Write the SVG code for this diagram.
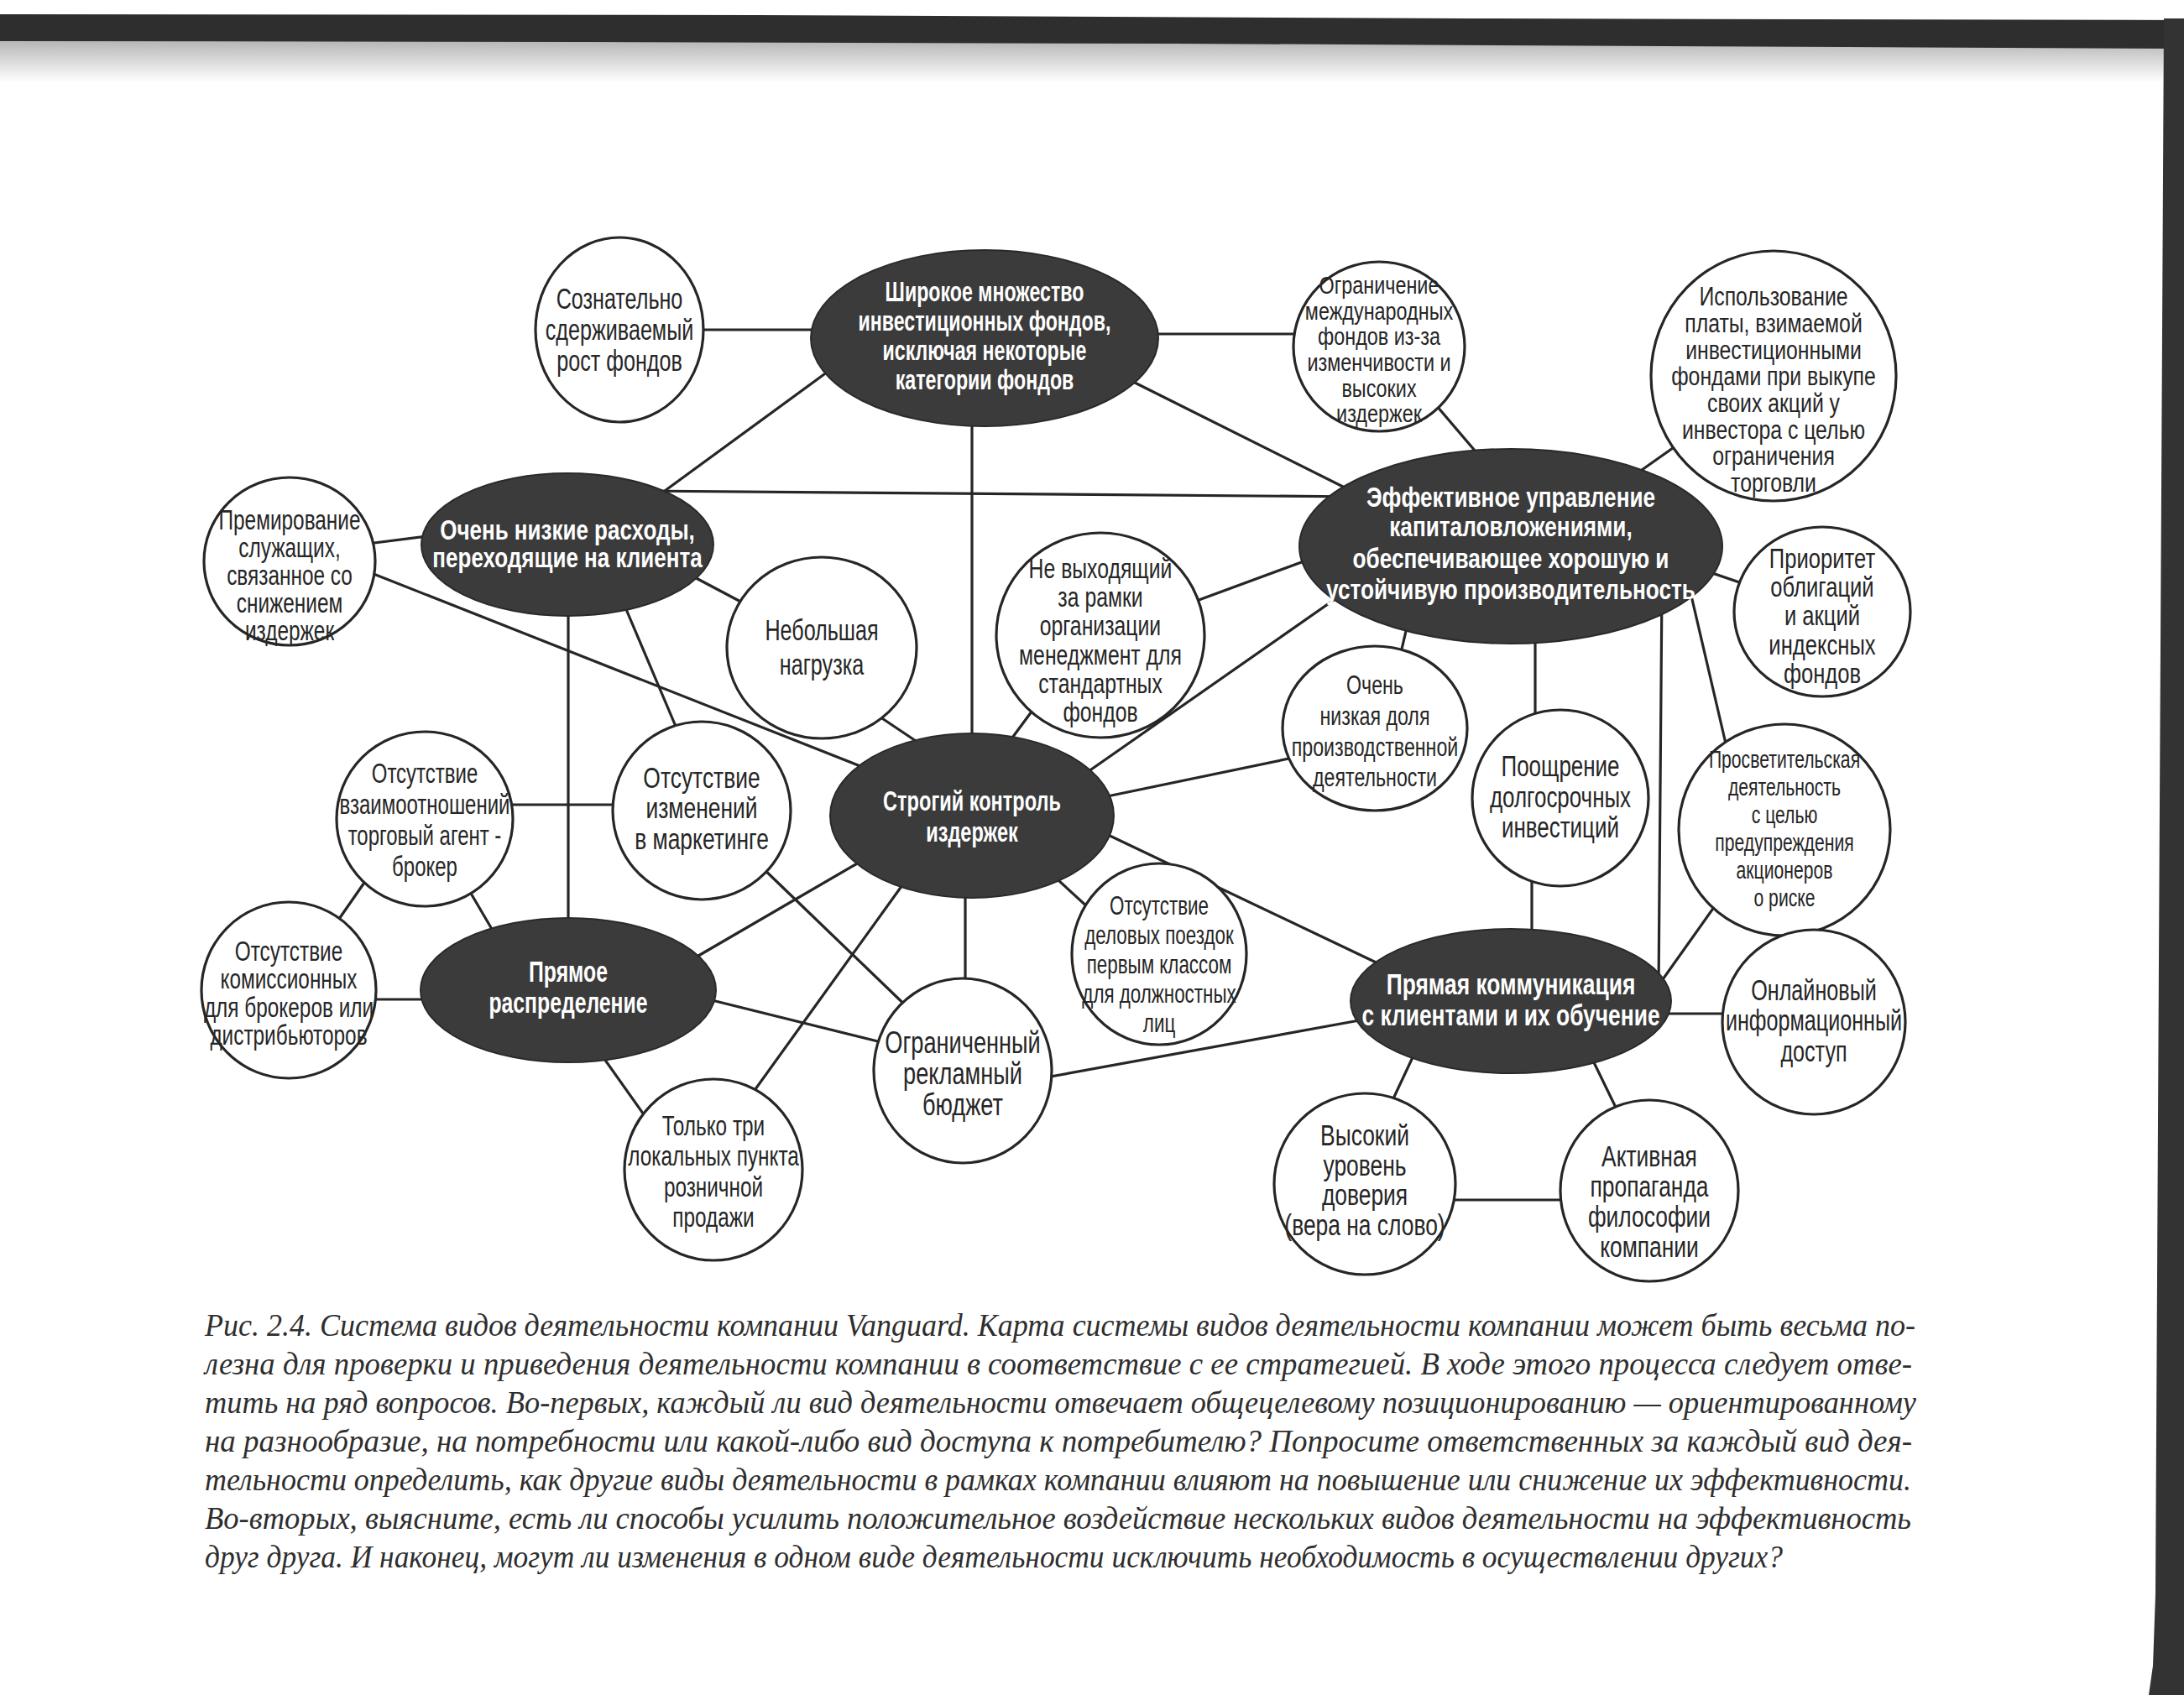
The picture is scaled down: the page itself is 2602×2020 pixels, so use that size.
<svg xmlns="http://www.w3.org/2000/svg" width="2602" height="2020" viewBox="0 0 2602 2020">
<defs>
<linearGradient id="fade" x1="0" y1="0" x2="0" y2="1">
<stop offset="0" stop-color="#b5b5b5"/>
<stop offset="1" stop-color="#ffffff"/>
</linearGradient>
<style>
.c{fill:#fff;stroke:#262626;stroke-width:3.2}
.d{fill:#3b3b3b;stroke:#2a2a2a;stroke-width:2}
.t{font-family:"Liberation Sans",Arial,sans-serif;fill:#262626;text-anchor:middle}
.dt{font-family:"Liberation Sans",Arial,sans-serif;font-weight:bold;fill:#fff;text-anchor:middle}
.l{stroke:#262626;stroke-width:3.2;fill:none;stroke-linecap:round}
.cap{font-family:"Liberation Serif","Times New Roman",serif;font-style:italic;font-size:37px;fill:#2e2e2e}
</style>
</defs>
<rect width="2602" height="2020" fill="#fff"/>
<g id="scan-edges">
<rect x="0" y="48" width="2602" height="50" fill="url(#fade)"/>
<polygon points="0,17 900,18 1750,22 2602,24 2602,58 2200,56 1400,52 700,50 0,49" fill="#2e2e2e"/>
<polygon points="2578,22 2602,22 2602,2020 2560,2020 2565,1985 2568,1900" fill="#333"/>
</g>
<g id="connectors">
<path class="l" d="M760 393H1000"/>
<path class="l" d="M1360 398H1570"/>
<path class="l" d="M997 435L781 593"/>
<path class="l" d="M1334 447L1636 598"/>
<path class="l" d="M1158 480V900"/>
<path class="l" d="M760 585L1620 592"/>
<path class="l" d="M1700 470L1775 558"/>
<path class="l" d="M2000 529L1915 589"/>
<path class="l" d="M1990 666L2090 700"/>
<path class="l" d="M1412 721L1586 657"/>
<path class="l" d="M1280 931L1612 699"/>
<path class="l" d="M1679 735L1665 795"/>
<path class="l" d="M1829 745V860"/>
<path class="l" d="M1980 700L1976 1180"/>
<path class="l" d="M2008 680L2063 916"/>
<path class="l" d="M430 649L525 637"/>
<path class="l" d="M430 678L1030 915"/>
<path class="l" d="M820 684L905 729"/>
<path class="l" d="M740 712L812 882"/>
<path class="l" d="M677 720V1110"/>
<path class="l" d="M600 959H745"/>
<path class="l" d="M1030 842L1100 889"/>
<path class="l" d="M1235 840L1195 894"/>
<path class="l" d="M1300 953L1555 900"/>
<path class="l" d="M1295 983L1652 1153"/>
<path class="l" d="M1250 1039L1322 1105"/>
<path class="l" d="M1150 1050V1180"/>
<path class="l" d="M1030 1024L808 1153"/>
<path class="l" d="M1080 1048L887 1316"/>
<path class="l" d="M905 1031L1090 1209"/>
<path class="l" d="M828 1187L1062 1245"/>
<path class="l" d="M1235 1286L1636 1213"/>
<path class="l" d="M553 1051L590 1114"/>
<path class="l" d="M443 1039L388 1118"/>
<path class="l" d="M430 1191H520"/>
<path class="l" d="M708 1245L776 1341"/>
<path class="l" d="M1825 1040V1120"/>
<path class="l" d="M2050 1070L1974 1177"/>
<path class="l" d="M1970 1208H2070"/>
<path class="l" d="M1684 1258L1654 1322"/>
<path class="l" d="M1895 1258L1930 1330"/>
<path class="l" d="M1700 1430H1900"/>
</g>
<g id="d1"><ellipse class="d" cx="1173" cy="403" rx="207" ry="105"/>
<text class="dt" font-size="32.5" transform="translate(1173,403) scale(0.714,1)"><tspan x="0" y="-44">Широкое множество</tspan><tspan x="0" y="-9">инвестиционных фондов,</tspan><tspan x="0" y="26">исключая некоторые</tspan><tspan x="0" y="61">категории фондов</tspan></text></g>
<g id="d2"><ellipse class="d" cx="676" cy="649" rx="174" ry="85"/>
<text class="dt" font-size="32.3" transform="translate(676,649) scale(0.805,1)"><tspan x="0" y="-6">Очень низкие расходы,</tspan><tspan x="0" y="27">переходящие на клиента</tspan></text></g>
<g id="d3"><ellipse class="d" cx="1800" cy="651" rx="252" ry="116"/>
<text class="dt" font-size="34" transform="translate(1800,649) scale(0.77,1)"><tspan x="0" y="-45">Эффективное управление</tspan><tspan x="0" y="-10">капиталовложениями,</tspan><tspan x="0" y="28">обеспечивающее хорошую и</tspan><tspan x="0" y="65">устойчивую производительность</tspan></text></g>
<g id="d4"><ellipse class="d" cx="1158" cy="972" rx="169" ry="98"/>
<text class="dt" font-size="33" transform="translate(1158,972) scale(0.714,1)"><tspan x="0" y="-6">Строгий контроль</tspan><tspan x="0" y="31">издержек</tspan></text></g>
<g id="d5"><ellipse class="d" cx="677" cy="1180" rx="176" ry="86"/>
<text class="dt" font-size="34.7" transform="translate(677,1180) scale(0.714,1)"><tspan x="0" y="-10">Прямое</tspan><tspan x="0" y="27">распределение</tspan></text></g>
<g id="d6"><ellipse class="d" cx="1800" cy="1193" rx="191" ry="86"/>
<text class="dt" font-size="35.5" transform="translate(1800,1193) scale(0.744,1)"><tspan x="0" y="-8">Прямая коммуникация</tspan><tspan x="0" y="29">с клиентами и их обучение</tspan></text></g>
<g id="c1"><ellipse class="c" cx="738" cy="393" rx="100" ry="110"/>
<text class="t" font-size="34.6" transform="translate(738,393) scale(0.727,1)"><tspan x="0" y="-25">Сознательно</tspan><tspan x="0" y="12">сдерживаемый</tspan><tspan x="0" y="49">рост фондов</tspan></text></g>
<g id="c2"><ellipse class="c" cx="1643" cy="413" rx="102" ry="101"/>
<text class="t" font-size="30" transform="translate(1643,413) scale(0.78,1)"><tspan x="0" y="-63">Ограничение</tspan><tspan x="0" y="-32">международных</tspan><tspan x="0" y="-2">фондов из-за</tspan><tspan x="0" y="29">изменчивости и</tspan><tspan x="0" y="60">высоких</tspan><tspan x="0" y="90">издержек</tspan></text></g>
<g id="c3"><ellipse class="c" cx="2113" cy="448" rx="146" ry="149"/>
<text class="t" font-size="31" transform="translate(2113,448) scale(0.8,1)"><tspan x="0" y="-84">Использование</tspan><tspan x="0" y="-52">платы, взимаемой</tspan><tspan x="0" y="-20">инвестиционными</tspan><tspan x="0" y="11">фондами при выкупе</tspan><tspan x="0" y="43">своих акций у</tspan><tspan x="0" y="75">инвестора с целью</tspan><tspan x="0" y="106">ограничения</tspan><tspan x="0" y="138">торговли</tspan></text></g>
<g id="c4"><ellipse class="c" cx="345" cy="669" rx="102" ry="100"/>
<text class="t" font-size="32.3" transform="translate(345,669) scale(0.755,1)"><tspan x="0" y="-38">Премирование</tspan><tspan x="0" y="-5">служащих,</tspan><tspan x="0" y="28">связанное со</tspan><tspan x="0" y="61">снижением</tspan><tspan x="0" y="94">издержек</tspan></text></g>
<g id="c5"><ellipse class="c" cx="979" cy="772" rx="113" ry="108"/>
<text class="t" font-size="34.6" transform="translate(979,772) scale(0.727,1)"><tspan x="0" y="-9">Небольшая</tspan><tspan x="0" y="32">нагрузка</tspan></text></g>
<g id="c6"><ellipse class="c" cx="1311" cy="757" rx="124" ry="122"/>
<text class="t" font-size="33.5" transform="translate(1311,757) scale(0.74,1)"><tspan x="0" y="-68">Не выходящий</tspan><tspan x="0" y="-34">за рамки</tspan><tspan x="0" y="0">организации</tspan><tspan x="0" y="35">менеджмент для</tspan><tspan x="0" y="69">стандартных</tspan><tspan x="0" y="103">фондов</tspan></text></g>
<g id="c7"><ellipse class="c" cx="2171" cy="729" rx="105" ry="101"/>
<text class="t" font-size="33.7" transform="translate(2171,729) scale(0.76,1)"><tspan x="0" y="-52">Приоритет</tspan><tspan x="0" y="-18">облигаций</tspan><tspan x="0" y="16">и акций</tspan><tspan x="0" y="51">индексных</tspan><tspan x="0" y="85">фондов</tspan></text></g>
<g id="c8"><ellipse class="c" cx="1638" cy="868" rx="110" ry="98"/>
<text class="t" font-size="31.9" transform="translate(1638,868) scale(0.727,1)"><tspan x="0" y="-41">Очень</tspan><tspan x="0" y="-4">низкая доля</tspan><tspan x="0" y="33">производственной</tspan><tspan x="0" y="69">деятельности</tspan></text></g>
<g id="c9"><ellipse class="c" cx="506" cy="976" rx="105" ry="104"/>
<text class="t" font-size="33" transform="translate(506,976) scale(0.727,1)"><tspan x="0" y="-43">Отсутствие</tspan><tspan x="0" y="-6">взаимоотношений</tspan><tspan x="0" y="31">торговый агент -</tspan><tspan x="0" y="68">брокер</tspan></text></g>
<g id="c10"><ellipse class="c" cx="836" cy="966" rx="106" ry="106"/>
<text class="t" font-size="35.7" transform="translate(836,966) scale(0.74,1)"><tspan x="0" y="-27">Отсутствие</tspan><tspan x="0" y="9">изменений</tspan><tspan x="0" y="46">в маркетинге</tspan></text></g>
<g id="c11"><ellipse class="c" cx="1859" cy="951" rx="105" ry="105"/>
<text class="t" font-size="35.7" transform="translate(1859,951) scale(0.727,1)"><tspan x="0" y="-26">Поощрение</tspan><tspan x="0" y="11">долгосрочных</tspan><tspan x="0" y="47">инвестиций</tspan></text></g>
<g id="c12"><ellipse class="c" cx="2126" cy="989" rx="126" ry="126"/>
<text class="t" font-size="29.1" transform="translate(2126,989) scale(0.727,1)"><tspan x="0" y="-74">Просветительская</tspan><tspan x="0" y="-41">деятельность</tspan><tspan x="0" y="-8">с целью</tspan><tspan x="0" y="25">предупреждения</tspan><tspan x="0" y="58">акционеров</tspan><tspan x="0" y="91">о риске</tspan></text></g>
<g id="c13"><ellipse class="c" cx="344" cy="1180" rx="104" ry="105"/>
<text class="t" font-size="32.6" transform="translate(344,1180) scale(0.748,1)"><tspan x="0" y="-35">Отсутствие</tspan><tspan x="0" y="-2">комиссионных</tspan><tspan x="0" y="32">для брокеров или</tspan><tspan x="0" y="65">дистрибьюторов</tspan></text></g>
<g id="c14"><ellipse class="c" cx="1381" cy="1137" rx="104" ry="108"/>
<text class="t" font-size="30.8" transform="translate(1381,1137) scale(0.727,1)"><tspan x="0" y="-47">Отсутствие</tspan><tspan x="0" y="-12">деловых поездок</tspan><tspan x="0" y="23">первым классом</tspan><tspan x="0" y="58">для должностных</tspan><tspan x="0" y="93">лиц</tspan></text></g>
<g id="c15"><ellipse class="c" cx="1147" cy="1276" rx="106" ry="110"/>
<text class="t" font-size="36.2" transform="translate(1147,1276) scale(0.751,1)"><tspan x="0" y="-21">Ограниченный</tspan><tspan x="0" y="16">рекламный</tspan><tspan x="0" y="53">бюджет</tspan></text></g>
<g id="c16"><ellipse class="c" cx="2161" cy="1218" rx="109" ry="110"/>
<text class="t" font-size="34.6" transform="translate(2161,1218) scale(0.727,1)"><tspan x="0" y="-26">Онлайновый</tspan><tspan x="0" y="10">информационный</tspan><tspan x="0" y="47">доступ</tspan></text></g>
<g id="c17"><ellipse class="c" cx="850" cy="1394" rx="106" ry="108"/>
<text class="t" font-size="33.5" transform="translate(850,1394) scale(0.727,1)"><tspan x="0" y="-41">Только три</tspan><tspan x="0" y="-5">локальных пункта</tspan><tspan x="0" y="32">розничной</tspan><tspan x="0" y="68">продажи</tspan></text></g>
<g id="c18"><ellipse class="c" cx="1626" cy="1411" rx="108" ry="108"/>
<text class="t" font-size="34.8" transform="translate(1626,1411) scale(0.759,1)"><tspan x="0" y="-46">Высокий</tspan><tspan x="0" y="-10">уровень</tspan><tspan x="0" y="25">доверия</tspan><tspan x="0" y="61">(вера на слово)</tspan></text></g>
<g id="c19"><ellipse class="c" cx="1965" cy="1419" rx="106" ry="108"/>
<text class="t" font-size="35.3" transform="translate(1965,1419) scale(0.748,1)"><tspan x="0" y="-29">Активная</tspan><tspan x="0" y="7">пропаганда</tspan><tspan x="0" y="43">философии</tspan><tspan x="0" y="79">компании</tspan></text></g>
<g id="caption">
<text class="cap" x="244" y="1592" textLength="2038" lengthAdjust="spacingAndGlyphs">Рис. 2.4. Система видов деятельности компании Vanguard. Карта системы видов деятельности компании может быть весьма по-</text>
<text class="cap" x="244" y="1638" textLength="2034" lengthAdjust="spacingAndGlyphs">лезна для проверки и приведения деятельности компании в соответствие с ее стратегией. В ходе этого процесса следует отве-</text>
<text class="cap" x="244" y="1684" textLength="2039" lengthAdjust="spacingAndGlyphs">тить на ряд вопросов. Во-первых, каждый ли вид деятельности отвечает общецелевому позиционированию — ориентированному</text>
<text class="cap" x="244" y="1730" textLength="2034" lengthAdjust="spacingAndGlyphs">на разнообразие, на потребности или какой-либо вид доступа к потребителю? Попросите ответственных за каждый вид дея-</text>
<text class="cap" x="244" y="1776" textLength="2033" lengthAdjust="spacingAndGlyphs">тельности определить, как другие виды деятельности в рамках компании влияют на повышение или снижение их эффективности.</text>
<text class="cap" x="244" y="1822" textLength="2033" lengthAdjust="spacingAndGlyphs">Во-вторых, выясните, есть ли способы усилить положительное воздействие нескольких видов деятельности на эффективность</text>
<text class="cap" x="244" y="1868" textLength="1880" lengthAdjust="spacingAndGlyphs">друг друга. И наконец, могут ли изменения в одном виде деятельности исключить необходимость в осуществлении других?</text>
</g>
</svg>
